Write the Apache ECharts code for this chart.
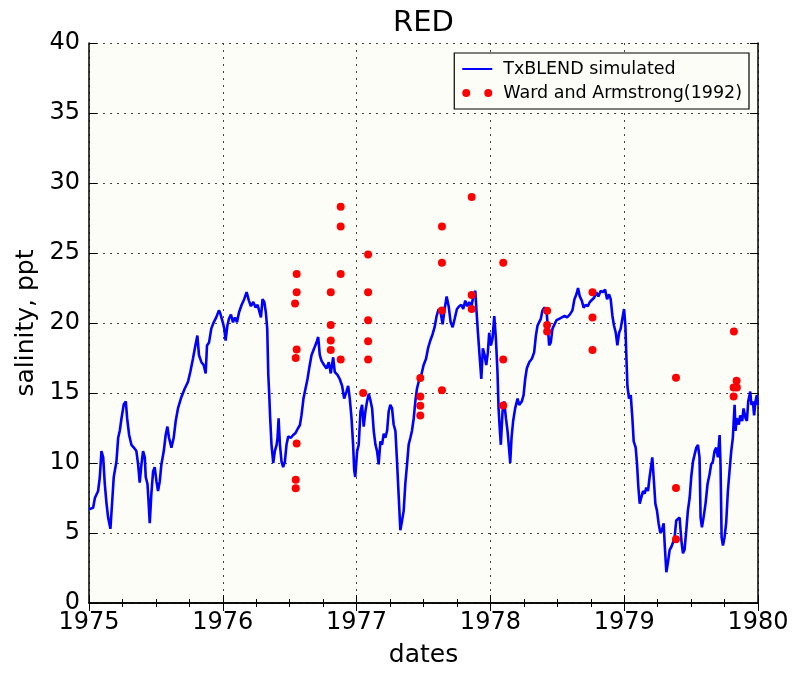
<!DOCTYPE html>
<html>
<head>
<meta charset="utf-8">
<script src="https://cdn.jsdelivr.net/npm/echarts@6/dist/echarts.min.js"></script>
<style>
html,body{margin:0;padding:0;background:#fff;}
#chart{width:795px;height:673px;}
</style>
</head>
<body>
<div id="chart"></div>
<script>
// TxBLEND simulated salinity (decimal year, ppt)
var simYear = [
1975.000,1975.031,1975.044,1975.068,1975.081,1975.093,1975.106,1975.118,1975.131,1975.143,
1975.160,1975.175,1975.185,1975.205,1975.218,1975.230,1975.243,1975.260,1975.275,1975.285,
1975.300,1975.317,1975.335,1975.354,1975.367,1975.379,1975.392,1975.404,1975.417,1975.424,
1975.437,1975.446,1975.454,1975.466,1975.479,1975.491,1975.504,1975.516,1975.529,1975.541,
1975.559,1975.573,1975.586,1975.598,1975.616,1975.633,1975.648,1975.665,1975.690,1975.715,
1975.740,1975.757,1975.777,1975.795,1975.810,1975.822,1975.840,1975.857,1975.872,1975.882,
1975.897,1975.914,1975.932,1975.951,1975.971,1975.979,
1976.000,1976.011,1976.021,1976.034,1976.046,1976.061,1976.076,1976.091,1976.106,1976.121,
1976.141,1976.160,1976.178,1976.195,1976.210,1976.228,1976.245,1976.260,1976.275,1976.285,
1976.297,1976.310,1976.322,1976.332,1976.340,1976.347,1976.354,1976.364,1976.377,1976.389,
1976.402,1976.409,1976.417,1976.427,1976.439,1976.451,1976.464,1976.476,1976.489,1976.509,
1976.526,1976.544,1976.563,1976.576,1976.588,1976.603,1976.618,1976.633,1976.648,1976.663,
1976.683,1976.700,1976.713,1976.725,1976.738,1976.757,1976.775,1976.792,1976.807,1976.825,
1976.837,1976.857,1976.874,1976.892,1976.907,1976.924,1976.937,1976.949,1976.962,1976.974,
1976.982,1976.990,
1977.004,1977.016,1977.029,1977.041,1977.053,1977.066,1977.078,1977.091,1977.103,1977.116,
1977.128,1977.141,1977.153,1977.165,1977.178,1977.190,1977.203,1977.215,1977.228,1977.240,
1977.252,1977.265,1977.277,1977.290,1977.302,1977.315,1977.327,1977.340,1977.352,1977.364,
1977.377,1977.389,1977.402,1977.414,1977.427,1977.439,1977.451,1977.464,1977.484,1977.501,
1977.519,1977.534,1977.551,1977.568,1977.583,1977.598,1977.613,1977.628,1977.643,1977.658,
1977.673,1977.688,1977.703,1977.718,1977.733,1977.750,1977.767,1977.782,1977.797,1977.812,
1977.827,1977.842,1977.857,1977.872,1977.887,1977.897,1977.907,1977.919,1977.932,1977.944,
1977.957,1977.969,1977.981,1977.991,
1978.004,1978.016,1978.029,1978.041,1978.053,1978.061,1978.071,1978.078,1978.091,1978.103,
1978.116,1978.128,1978.141,1978.148,1978.158,1978.170,1978.185,1978.203,1978.215,1978.235,
1978.248,1978.260,1978.272,1978.290,1978.310,1978.327,1978.340,1978.352,1978.364,1978.377,
1978.389,1978.404,1978.419,1978.429,1978.439,1978.451,1978.464,1978.479,1978.494,1978.514,
1978.534,1978.554,1978.573,1978.593,1978.613,1978.628,1978.643,1978.655,1978.668,1978.683,
1978.697,1978.713,1978.728,1978.743,1978.757,1978.775,1978.792,1978.807,1978.825,1978.842,
1978.857,1978.872,1978.887,1978.899,1978.912,1978.924,1978.937,1978.949,1978.962,1978.974,
1978.986,1978.999,
1979.009,1979.016,1979.024,1979.036,1979.049,1979.061,1979.071,1979.086,1979.096,1979.106,
1979.116,1979.128,1979.141,1979.153,1979.165,1979.178,1979.190,1979.203,1979.210,1979.220,
1979.233,1979.245,1979.257,1979.270,1979.282,1979.295,1979.302,1979.315,1979.327,1979.340,
1979.352,1979.364,1979.377,1979.389,1979.402,1979.414,1979.427,1979.439,1979.451,1979.464,
1979.476,1979.489,1979.501,1979.514,1979.526,1979.539,1979.551,1979.563,1979.571,1979.581,
1979.593,1979.608,1979.623,1979.638,1979.650,1979.663,1979.675,1979.688,1979.700,1979.713,
1979.720,1979.728,1979.738,1979.750,1979.762,1979.775,1979.787,1979.800,1979.812,1979.825,
1979.832,1979.842,1979.857,1979.867,1979.882,1979.892,1979.907,1979.917,1979.927,1979.942,
1979.951,1979.962,1979.971,1979.981,1979.991,1979.999
];
var simSalinity = [
6.7,6.8,7.5,8.0,9.0,10.85,10.4,8.5,7.1,6.1,
5.3,7.5,9.0,10.1,11.8,12.3,13.2,14.2,14.4,13.2,
12.0,11.3,11.1,10.85,9.9,8.6,9.9,10.85,10.4,9.0,
8.5,7.1,5.7,7.8,9.4,9.7,8.7,8.0,8.7,9.9,
10.85,12.0,12.6,11.8,11.1,11.8,13.0,13.9,14.7,15.3,
15.8,16.5,17.45,18.4,19.1,17.7,17.2,17.0,16.4,18.4,
18.6,19.6,20.05,20.4,20.9,20.75,
20.05,19.6,18.75,19.8,20.3,20.6,20.05,20.4,20.05,20.75,
21.3,21.7,22.2,21.6,21.2,21.5,21.1,21.3,20.75,20.4,
21.7,21.5,20.75,19.6,16.3,14.9,13.2,11.3,10.0,10.85,
11.3,11.8,13.2,11.3,10.1,9.7,10.1,11.3,11.9,11.8,
12.0,12.15,12.5,12.7,13.4,14.6,15.3,16.0,16.9,17.7,
18.2,18.6,19.0,17.7,17.3,17.0,16.75,17.2,16.4,17.55,
16.5,16.3,16.0,15.5,14.6,15.1,15.5,14.6,13.2,11.3,
9.5,9.0,
10.85,11.3,13.7,14.15,12.6,13.7,14.4,14.95,14.5,13.9,
12.3,11.3,10.85,9.9,11.55,11.3,12.1,11.8,12.3,13.7,
14.15,13.9,12.75,12.3,10.15,7.55,5.2,5.9,6.6,8.5,
9.9,11.3,11.8,12.3,13.2,14.4,15.3,15.8,16.3,17.0,
17.45,18.2,18.75,19.2,19.7,20.5,21.0,20.75,19.9,21.0,
21.9,21.2,20.05,19.7,20.3,21.0,21.2,21.3,21.0,21.6,
21.2,21.5,21.1,21.9,22.3,20.75,19.3,17.7,16.0,18.2,
17.7,17.0,17.9,19.3,
18.4,18.9,20.5,18.9,16.5,13.9,12.3,11.3,13.7,14.4,
13.2,12.3,10.85,10.0,11.8,13.0,13.9,14.6,14.15,14.4,
14.85,16.0,16.75,17.2,17.45,17.9,19.1,19.8,20.05,20.3,
20.9,21.1,20.9,19.8,18.4,18.6,19.6,19.9,20.2,20.3,
20.4,20.5,20.4,20.6,20.9,21.7,22.05,22.5,21.9,21.6,
21.1,21.3,21.2,21.5,21.6,21.8,22.2,21.9,22.3,22.2,
22.4,21.7,22.05,21.7,20.5,19.8,19.3,18.4,19.3,19.6,
20.3,21.0,
19.8,17.7,15.5,14.6,14.85,13.2,11.55,11.1,9.9,8.25,
7.1,7.55,8.0,7.8,8.25,8.0,9.0,9.9,10.4,9.0,
7.1,6.6,5.7,5.0,5.2,5.7,4.3,2.2,2.9,3.8,
4.0,4.3,4.7,5.9,5.9,6.1,4.5,3.55,3.8,5.2,
6.6,7.5,9.0,10.1,10.6,11.1,11.3,10.4,6.1,5.4,
6.1,7.1,8.5,9.2,9.9,10.1,10.85,11.1,10.4,12.0,
9.9,4.7,4.1,4.7,5.7,8.0,9.4,10.85,11.8,14.15,
12.3,13.2,12.75,13.4,13.0,13.9,13.2,13.0,14.4,15.1,
14.15,14.4,13.4,14.4,14.85,14.15
];
// Ward and Armstrong (1992) observations
var obsYear = [
1976.552,1976.552,1976.540,1976.552,1976.545,1976.552,1976.545,1976.545,
1976.807,1976.807,1976.807,1976.807,
1976.881,1976.881,1976.881,1976.881,
1977.049,1977.086,1977.086,1977.086,1977.086,1977.086,
1977.476,1977.476,1977.476,1977.476,
1977.638,1977.638,1977.638,1977.638,
1977.860,1977.860,1977.860,
1978.096,1978.096,1978.096,
1978.424,1978.424,1978.424,
1978.763,1978.763,1978.763,
1979.387,1979.387,1979.387,
1979.820,1979.840,1979.818,1979.842,1979.818
];
var obsSalinity = [
23.5,22.2,21.4,18.1,17.5,11.4,8.8,8.2,
22.2,19.85,18.75,18.07,
28.3,26.9,23.5,17.4,
15.0,24.9,22.2,20.2,18.7,17.4,
16.07,14.75,14.09,13.4,
26.9,24.3,20.9,15.2,
29.0,22.0,21.0,
24.3,17.4,14.1,
20.87,19.85,19.4,
22.2,20.4,18.07,
16.09,8.21,4.56,
19.39,15.88,15.39,15.39,14.75
];
var yearTicks = [1975, 1976, 1977, 1978, 1979, 1980];

var simData = simYear.map(function (t, i) { return [t, simSalinity[i]]; });
var obsData = obsYear.map(function (t, i) { return [t, obsSalinity[i]]; });

var FONT = 'DejaVu Sans';
var chart = echarts.init(document.getElementById('chart'), null, {renderer: 'canvas'});
var gridLine = {show: true, lineStyle: {color: '#444', width: 1, type: [2, 5]}};
chart.setOption({
  animation: false,
  backgroundColor: '#ffffff',
  title: {
    text: 'RED', left: 388, top: 4,
    textStyle: {fontFamily: FONT, fontSize: 29, fontWeight: 'normal', color: '#000'}
  },
  legend: {
    orient: 'vertical', right: 46, top: 53,
    backgroundColor: '#fdfdf7', borderColor: '#000', borderWidth: 1.2,
    padding: [7, 7, 7, 8], itemGap: 6, itemWidth: 30, itemHeight: 8,
    symbolKeepAspect: true,
    textStyle: {fontFamily: FONT, fontSize: 17.5, color: '#000', padding: [0, 0, 0, 6]},
    data: [
      {name: 'TxBLEND simulated', icon: 'path://M0,0L30,0L30,2L0,2Z', itemStyle: {color: '#0000ff'}},
      {name: 'Ward and Armstrong(1992)', icon: 'path://M0,4a4,4 0 1,0 8,0a4,4 0 1,0 -8,0zM22,4a4,4 0 1,0 8,0a4,4 0 1,0 -8,0z', itemStyle: {color: '#ff0000', opacity: 1}}
    ]
  },
  grid: {left: 89, right: 37, top: 43, bottom: 63, show: true, backgroundColor: '#fdfdf7', borderWidth: 0},
  xAxis: [{
    type: 'value', min: yearTicks[0], max: yearTicks[yearTicks.length - 1], interval: 1,
    name: 'dates', nameLocation: 'middle', nameGap: 40,
    nameTextStyle: {fontFamily: FONT, fontSize: 25, color: '#000'},
    axisLine: {show: true, lineStyle: {color: '#000', width: 1.5}},
    axisTick: {show: true, inside: true, length: 8, lineStyle: {color: '#000'}},
    minorTick: {show: true, splitNumber: 4, length: 4, lineStyle: {color: '#000'}},
    axisLabel: {fontFamily: FONT, fontSize: 24, color: '#000', margin: 8, formatter: function (v) { return String(v); }},
    splitLine: gridLine
  }, {
    type: 'value', position: 'top', min: yearTicks[0], max: yearTicks[yearTicks.length - 1], interval: 1,
    axisLine: {show: true, lineStyle: {color: '#000', width: 1.5}},
    axisTick: {show: true, inside: true, length: 8, lineStyle: {color: '#000'}},
    minorTick: {show: true, splitNumber: 4, length: 4, lineStyle: {color: '#000'}},
    axisLabel: {show: false}, splitLine: {show: false}
  }],
  yAxis: [{
    type: 'value', min: 0, max: 40, interval: 5,
    name: 'salinity, ppt', nameLocation: 'middle', nameGap: 48,
    nameTextStyle: {fontFamily: FONT, fontSize: 25, color: '#000'},
    axisLine: {show: true, lineStyle: {color: '#000', width: 1.5}},
    axisTick: {show: true, inside: true, length: 8, lineStyle: {color: '#000'}},
    axisLabel: {fontFamily: FONT, fontSize: 24, color: '#000', margin: 9},
    splitLine: gridLine
  }, {
    type: 'value', position: 'right', min: 0, max: 40, interval: 5,
    axisLine: {show: true, lineStyle: {color: '#000', width: 1.5}},
    axisTick: {show: true, inside: true, length: 8, lineStyle: {color: '#000'}},
    axisLabel: {show: false}, splitLine: {show: false}
  }],
  series: [{
    name: 'TxBLEND simulated', type: 'line', data: simData,
    xAxisIndex: 0, yAxisIndex: 0,
    symbol: 'none', showSymbol: false,
    lineStyle: {color: '#0000ff', width: 2.6}, itemStyle: {color: '#0000ff'}, z: 2
  }, {
    name: 'Ward and Armstrong(1992)', type: 'scatter', data: obsData,
    xAxisIndex: 0, yAxisIndex: 0,
    symbol: 'circle', symbolSize: 8,
    itemStyle: {color: '#ff0000', opacity: 1}, z: 3
  }]
});
</script>
</body>
</html>
